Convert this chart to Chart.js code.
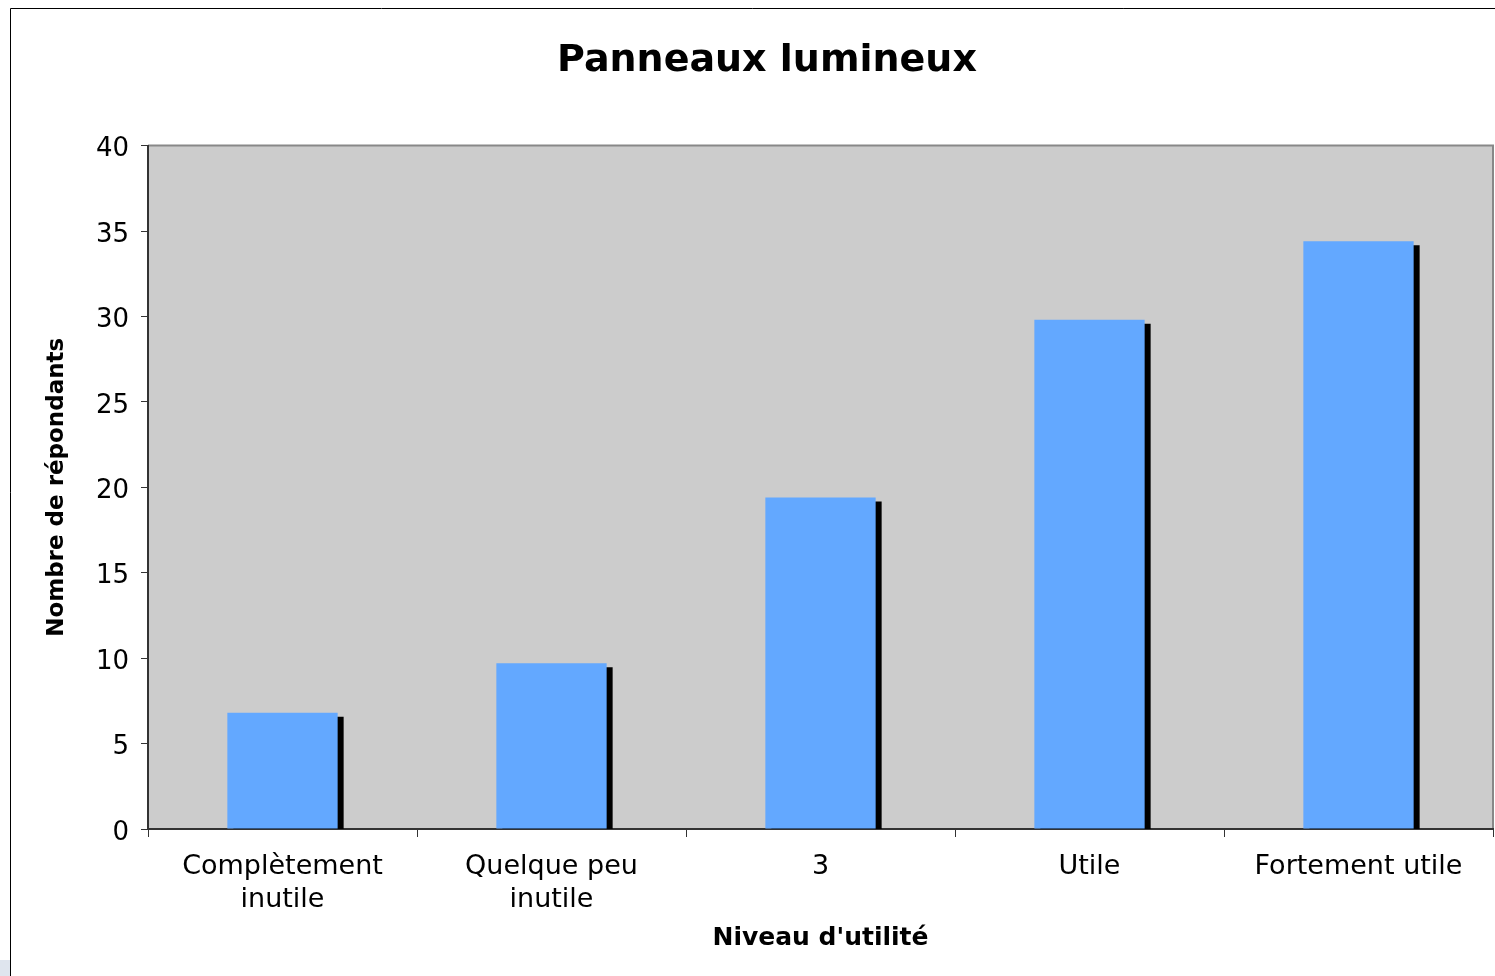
<!DOCTYPE html>
<html>
<head>
<meta charset="utf-8">
<script src="https://cdn.jsdelivr.net/npm/chart.js@4"></script>
<style>
  html, body { margin: 0; padding: 0; background: #fff; }
  #wrap { position: relative; width: 1495px; height: 976px; }
  #corner { position: absolute; left: 0; top: 960px; width: 10px; height: 16px; background: #dfe5ee; }
</style>
</head>
<body>
<div id="wrap">
  <canvas id="chart" width="1495" height="976"></canvas>
  <div id="corner"></div>
</div>
<script>
// données
const categories = [["Complètement", "inutile"], ["Quelque peu", "inutile"], "3", "Utile", "Fortement utile"];
const respondents = [6.8, 9.7, 19.4, 29.8, 34.4];
const yTicks = [0, 5, 10, 15, 20, 25, 30, 35, 40];

const chartTitle = "Panneaux lumineux";
const xTitle = "Niveau d'utilité";
const yTitle = "Nombre de répondants";

// fond gris de la zone de tracé + cadre extérieur
const plotBackground = {
  id: "plotBackground",
  beforeDraw(chart) {
    const ctx = chart.ctx;
    const a = chart.chartArea;
    ctx.save();
    ctx.fillStyle = "#cccccc";
    ctx.fillRect(a.left, a.top, a.right - a.left, a.bottom - a.top);
    ctx.strokeStyle = "#888888";
    ctx.lineWidth = 2;
    ctx.beginPath();
    ctx.moveTo(a.left, a.top);
    ctx.lineTo(a.right, a.top);
    ctx.lineTo(a.right, a.bottom);
    ctx.stroke();
    // cadre de la figure
    ctx.strokeStyle = "#000";
    ctx.lineWidth = 1;
    ctx.beginPath();
    ctx.moveTo(10.5, chart.height);
    ctx.lineTo(10.5, 8.5);
    ctx.lineTo(chart.width, 8.5);
    ctx.stroke();
    ctx.restore();
  }
};

// ombre noire à droite des barres
const barShadow = {
  id: "barShadow",
  beforeDatasetDraw(chart) {
    const ctx = chart.ctx;
    ctx.save();
    ctx.shadowColor = "#000000";
    ctx.shadowOffsetX = 6;
    ctx.shadowOffsetY = 4;
    ctx.shadowBlur = 0;
  },
  afterDatasetDraw(chart) {
    chart.ctx.restore();
  }
};

new Chart(document.getElementById("chart"), {
  type: "bar",
  data: {
    labels: categories,
    datasets: [{
      data: respondents,
      backgroundColor: "#63a8ff",
      borderWidth: 0,
      categoryPercentage: 0.82,
      barPercentage: 0.5
    }]
  },
  options: {
    responsive: false,
    animation: false,
    // padding gauche pour décaler le titre comme dans l'original
    layout: { padding: { left: 41, right: 2, top: 0, bottom: 0 } },
    plugins: {
      legend: { display: false },
      tooltip: { enabled: false },
      title: {
        display: true,
        text: chartTitle,
        color: "#000",
        font: { family: "'DejaVu Sans'", size: 38, weight: "bold", lineHeight: 1.2 },
        padding: { top: 38, bottom: 62 }
      }
    },
    scales: {
      x: {
        afterFit(scale) { scale.height = 147; },
        border: { display: true, color: "#333", width: 2 },
        grid: { display: true, drawOnChartArea: false, drawTicks: true, tickLength: 8, color: "#333", offset: true },
        ticks: {
          color: "#000",
          font: { family: "'DejaVu Sans'", size: 27, lineHeight: 1.2 },
          padding: 14,
          maxRotation: 0,
          autoSkip: false
        },
        title: {
          display: true,
          text: xTitle,
          color: "#000",
          font: { family: "'DejaVu Sans'", size: 25, weight: "bold", lineHeight: 1.2 },
          padding: { top: 0, bottom: 23 }
        }
      },
      y: {
        min: 0,
        max: 40,
        afterFit(scale) { scale.width = 107; },
        afterBuildTicks(scale) { scale.ticks = yTicks.map(v => ({ value: v })); },
        border: { display: true, color: "#333", width: 2 },
        grid: { display: true, drawOnChartArea: false, drawTicks: true, tickLength: 7, color: "#333" },
        ticks: {
          color: "#000",
          font: { family: "'DejaVu Sans'", size: 26 },
          padding: 12,
          labelOffset: 4
        },
        title: {
          display: true,
          text: yTitle,
          color: "#000",
          font: { family: "'DejaVu Sans'", size: 23, weight: "bold", lineHeight: 1.2 },
          padding: { top: 2, bottom: 0 }
        }
      }
    }
  },
  plugins: [plotBackground, barShadow]
});
</script>
</body>
</html>
